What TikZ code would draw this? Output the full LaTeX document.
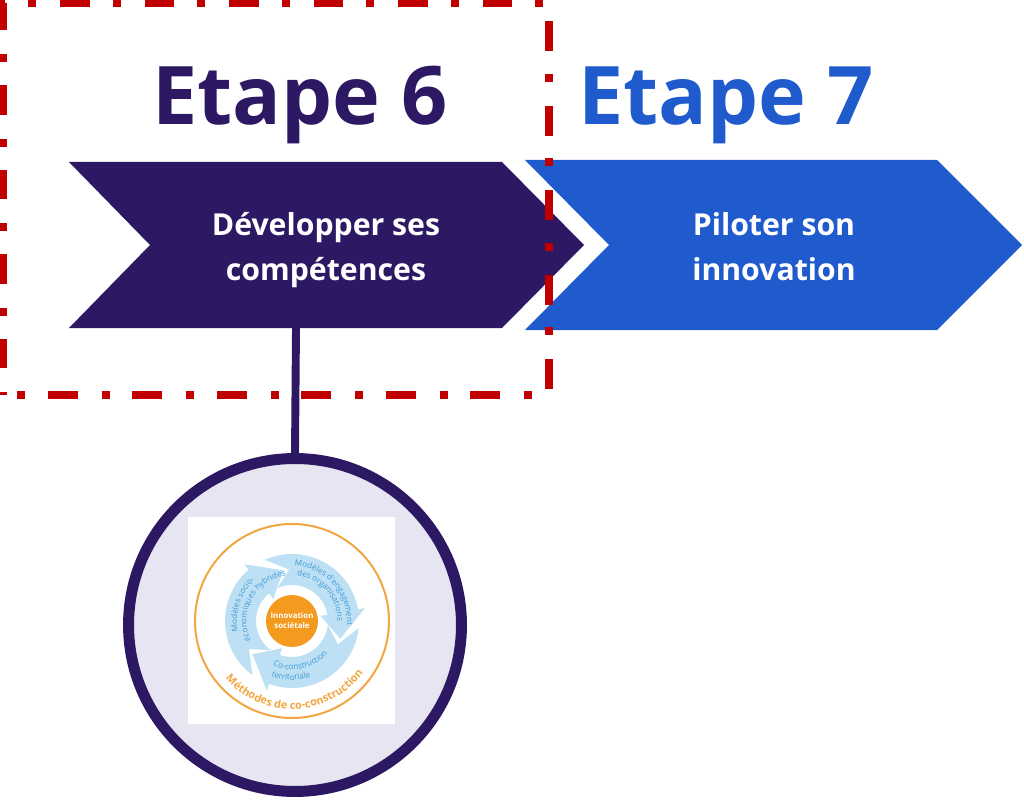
\documentclass[tikz,border=0pt]{standalone}
\usepackage{fontspec}
\setmainfont{Open Sans}
\usetikzlibrary{decorations.text}
\definecolor{stepsix}{HTML}{2D1863}
\definecolor{stepseven}{HTML}{1F5BCC}
\definecolor{framered}{HTML}{C00000}
\definecolor{pictfill}{HTML}{E7E5F1}
\definecolor{ringorange}{HTML}{F2A641}
\definecolor{coreorange}{HTML}{F39A1F}
\definecolor{cycleblue}{HTML}{BDE0F5}
\definecolor{cycletext}{HTML}{3E9AD6}
\begin{document}
\begin{tikzpicture}[x=0.02cm, y=0.02cm,
  steptitle/.style={anchor=base, font=\fontsize{46}{50}\selectfont\bfseries},
  steplabel/.style={align=center, text=white, inner sep=0pt, font=\fontsize{17.2}{25.5}\selectfont\bfseries},
  cyclearrow/.style={fill=cycleblue}]
\useasboundingbox (0,0) rectangle (1024,799);
% chevrons
\fill[stepsix] (69,637) -- (502,637) -- (584,554) -- (502,471) -- (69,471) -- (150,554) -- cycle;
\fill[stepseven] (525,639) -- (937,639) -- (1022,554) -- (937,469) -- (525,469) -- (609,554) -- cycle;
\node[steptitle, text=stepsix] (T6) at (300,674) {Etape 6};
\node[steptitle, text=stepseven] (T7) at (726,674) {Etape 7};
\node[steplabel] (L6) at (326,549) {Développer ses\\compétences};
\node[steplabel] (L7) at (774,552) {Piloter son\\innovation};
% frame round step 6
\draw[framered, line width=4pt, dash pattern=on 17pt off 13pt on 4.5pt off 13.6pt, dash phase=33pt] (3,404) rectangle (549,796);
% stem and picture
\coordinate (S6) at (296,471);
\node[shape=circle, draw=stepsix, line width=6.24pt, fill=pictfill, minimum size=6.66cm, inner sep=0pt] (pic) at (295,174) {};
\draw[stepsix, line width=4.5pt] (S6) -- (pic.north);
\fill[white] (188,75) rectangle (395,282);
\begin{scope}[shift={(292,178)}]
\draw[ringorange, line width=1.13pt] (0,0) circle (97);
\fill[cyclearrow] (234:67) arc[start angle=234, end angle=130, radius=67] -- (130:74) -- (100:51.5) -- (130:29) -- (130:36) arc[start angle=130, end angle=234, radius=36] -- (213:51.5) -- cycle;
\fill[cyclearrow] (114:67) arc[start angle=114, end angle=10, radius=67] -- (10:74) -- (-20:51.5) -- (10:29) -- (10:36) arc[start angle=10, end angle=114, radius=36] -- (93:51.5) -- cycle;
\fill[cyclearrow] (-6:67) arc[start angle=-6, end angle=-110, radius=67] -- (-110:74) -- (-140:51.5) -- (-110:29) -- (-110:36) arc[start angle=-110, end angle=-6, radius=36] -- (-27:51.5) -- cycle;
\node[shape=circle, fill=coreorange, minimum size=1.04cm, inner sep=0pt, align=center, text=white, font=\fontsize{4.5}{5.7}\selectfont\bfseries] (core) at (0,0) {Innovation\\sociétale};
\path[decorate, decoration={text along path, text align=center, text color=cycletext, text={|\fontsize{4.6}{5}\selectfont|Modèles socio-}}] (200:55) arc[start angle=200, end angle=124, radius=55];
\path[decorate, decoration={text along path, text align=center, text color=cycletext, text={|\fontsize{4.6}{5}\selectfont|économiques hybrides}}] (215:45.5) arc[start angle=215, end angle=88, radius=45.5];
\path[decorate, decoration={text along path, text align=center, text color=cycletext, text={|\fontsize{4.6}{5}\selectfont|Modèles d'engagement}}] (100:55) arc[start angle=100, end angle=-17, radius=55];
\path[decorate, decoration={text along path, text align=center, text color=cycletext, text={|\fontsize{4.6}{5}\selectfont|des organisations}}] (100:45.5) arc[start angle=100, end angle=-16, radius=45.5];
\path[decorate, decoration={text along path, text align=center, text color=cycletext, text={|\fontsize{4.6}{5}\selectfont|Co-construction}}] (232:48.5) arc[start angle=232, end angle=332, radius=48.5];
\path[decorate, decoration={text along path, text align=center, text color=cycletext, text={|\fontsize{4.6}{5}\selectfont|territoriale}}] (224:59) arc[start angle=224, end angle=314, radius=59];
\path[decorate, decoration={text along path, text align=center, text color=ringorange, text={|\fontsize{6.2}{7}\selectfont\bfseries|Méthodes de co-construction}}] (200:88) arc[start angle=200, end angle=345, radius=88];
\end{scope}
\end{tikzpicture}
\end{document}
